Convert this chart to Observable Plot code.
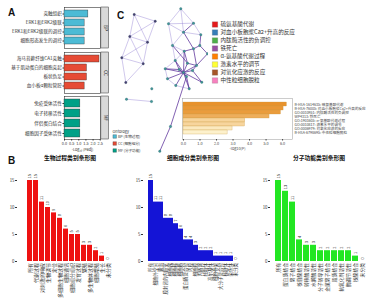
<!DOCTYPE html>
<html><head><meta charset="utf-8">
<script src="https://cdn.jsdelivr.net/npm/d3@7"></script>
<script src="https://cdn.jsdelivr.net/npm/@observablehq/plot@0.6"></script>
<style>
body{margin:0;background:#fff;font-family:"Noto Sans CJK SC","Noto Sans",sans-serif;}
#fig{position:relative;width:385px;height:304px;overflow:hidden;background:#fff;}
.lbl{position:absolute;font-family:"Liberation Sans",Arial,sans-serif;font-weight:bold;font-size:10px;line-height:10px;color:#111;}
.ttl{position:absolute;font-weight:bold;font-size:5.8px;line-height:6px;white-space:nowrap;transform:translateX(-50%);color:#111;}
</style></head><body><div id="fig"></div>
<script>
// ---------- Panel A data ----------
const bpTerms = ["突触组织","ERK1和ERK2级联","ERK1和ERK2级联的调控","细胞形态发生的调控"];
const bpValues = [1.67, 1.41, 1.41, 1.41];
const ccTerms = ["海马苔藓纤维CA1突触","基于肌动蛋白的细胞突起","板状伪足","血小板α颗粒管腔"];
const ccValues = [2.45, 1.57, 1.57, 1.41];
const mfTerms = ["免疫受体活性","电子转移活性","伴侣蛋白结合","细胞因子受体活性"];
const mfValues = [1.11, 1.11, 1.11, 1.11];
const ontologyNames = ["BP","CC","MF"];
const ontologyLabels = ["BP (生物过程)","CC (细胞组分)","MF (分子功能)"];
const ontologyColors = ["#4DBBD5","#E64B35","#00A087"];
const padjTicks = [0, 0.5, 1, 1.5, 2, 2.5];

// ---------- Panel C data ----------
const clusterTerms = ["硫氨基酸代谢","对血小板胞浆Ca2+升高的反应","内肽酶活性的负调控","铁死亡","α-氨基酸代谢过程","激素水平的调节","对氧化应激的反应","中性粒细胞脱粒"];
const clusterColors = ["#e41a1c","#377eb8","#4daf4a","#984ea3","#ff7f00","#ffff33","#a65628","#f781bf"];
const enrichIds = ["R-HSA-1614635","R-HSA-76005","GO:0010951","WP4313","GO:1901605","GO:0010817","GO:0006979","R-HSA-6798695"];
const enrichLogP = [6.26, 6.06, 5.90, 5.21, 3.74, 3.72, 2.97, 2.67];
const logPTicks = [0,1,2,3,4,5,6];

// network layout (layout units)
const nodeIds = ["L0","L1","L2","L3","L4","L5","L6","P0","P1","S0",
  "R0","R1","R2","R3","R4","R5","R6","R7","R8","R9","R10","R11","R12","R13","R14","R15","R16","R17","R18","R19","R20","R21","R22","R23"];
const nodeX = [21.7,42.7,17.3,35,9.3,30.7,13.3,14,39,39.3,
  68.3,56,81,71,88.3,60,87.3,71.7,81,95,62.7,75,84,52.7,66.7,80,55,74,89.3,63.3,76.7,71,58,47.3];
const nodeY = [14,20.7,36,41.7,57.3,63.3,82,98.7,101,88.3,
  8.3,23.3,22.7,31.7,34.3,45,45,50.7,48.3,53.3,60,62.7,65,68.3,69,70,78.3,76,81.7,85,88.3,72,126,150.7];
const nodeGroup = ["a","a","a","a","a","a","a","b","b","b",
  "c","c","c","c","c","c","c","c","c","c","c","c","c","c","c","c","c","c","c","c","c","c","c","c"];
const edgeFrom = ["L0","L0","L0","L1","L1","L2","L2","L2","L3","L3","L4","L4","L5","P0",
  "R0","R0","R0","R1","R1","R1","R3","R2","R3","R5","R5","R7","R13","R16","R19","R13",
  "R2","R4","R6","R6","R7","R7","R8","R11","R9","R10","R13","R14","R13","R15","R16","R17","R12","R11","R19","R20","R18","R10","R15","R12","R17","R17","R22","R5","R7","R14","R3"];
const edgeTo = ["L1","L2","L3","L2","L3","L3","L4","L5","L4","L5","L5","L6","L6","P1",
  "R1","R2","R3","R2","R3","R5","R5","R4","R4","R7","R10","R10","R16","R19","R20","R10",
  "R3","R6","R8","R9","R8","R11","R12","R12","R12","R14","R14","R21","R21","R21","R21","R21","R21","R21","R21","R21","R21","R21","R18","R15","R20","R22","R23","R11","R21","R17","R8"];
const edgeKind = ["l","l","l","l","l","l","l","l","l","l","l","l","l","l",
  "l","l","l","l","l","l","l","l","l","l","l","l","l","l","l","l",
  "d","d","d","d","d","d","d","d","d","d","d","d","d","d","d","d","d","d","d","d","d","d","d","d","d","d","d","d","d","d","d"];

// ---------- Panel B data ----------
const bpCats = ["所有","代谢过程","对刺激的响应","生物调节","定位","多细胞生物过程","细胞通讯","细胞组分组织","发育过程","繁殖","多生物体过程","细胞增殖","生长","未分类"];
const bpCounts = [15,15,11,10,9,8,6,5,5,3,3,2,1,0];
const ccCats = ["所有","细胞外空间","囊泡","膜封闭的内腔室","细胞器","细胞核","细胞质","蛋白质复合物","内膜","细胞膜","内质网","线粒体","高尔基体","细胞骨架","大分子复合物","核糖体","染色体","未分类"];
const ccCounts = [15,11,11,8,8,7,6,4,4,3,2,2,2,1,1,1,1,0];
const mfCats = ["所有","蛋白质结合","离子结合","核苷酸结合","转移酶活性","水解酶活性","分子转导活性","金属离子结合","脂质结合","抗氧化剂活性","酶调节活性","核酸结合","未分类"];
const mfCounts = [15,13,11,4,3,3,2,2,2,2,2,1,0];
const countTicks = [0,5,10,15];
const panelTitles = ["生物过程类别条形图","细胞成分类别条形图","分子功能类别条形图"];
const barColors = ["#ee1111","#1414d6","#22e622"];

// ---------- helpers ----------
const FONT = '"Noto Sans CJK SC","Noto Sans",sans-serif';
const fig = document.getElementById("fig");
function place(el, left, top) {
  el.style.position = "absolute"; el.style.left = left + "px"; el.style.top = top + "px";
  fig.appendChild(el); return el;
}
function label(cls, text, left, top) {
  const d = document.createElement("div"); d.className = cls; d.textContent = text;
  d.style.left = left + "px"; d.style.top = top + "px"; fig.appendChild(d); return d;
}

// ---------- Panel C: network ----------
const nodes = nodeIds.map((id, i) => ({id, x: nodeX[i], y: nodeY[i], g: nodeGroup[i]}));
const byId = new Map(nodes.map(n => [n.id, n]));
const edges = edgeFrom.map((f, i) => ({a: byId.get(f), b: byId.get(edgeTo[i]), k: edgeKind[i]}));
place(Plot.plot({
  width: 100, height: 160, margin: 0,
  style: {background: "transparent", overflow: "visible"},
  x: {domain: [0, 100], axis: null},
  y: {domain: [0, 160], reverse: true, axis: null},
  marks: [
    Plot.link(edges.filter(e => e.k === "l"), {x1: d => d.a.x, y1: d => d.a.y, x2: d => d.b.x, y2: d => d.b.y,
      stroke: "#9f8fd8", strokeWidth: 0.55, strokeOpacity: 0.9}),
    Plot.link(edges.filter(e => e.k === "d"), {x1: d => d.a.x, y1: d => d.a.y, x2: d => d.b.x, y2: d => d.b.y,
      stroke: "#5b2f9a", strokeWidth: 0.9, strokeOpacity: 0.85}),
    Plot.dot(nodes, {x: "x", y: "y", r: 1.2, fill: d => d.g === "a" ? "#4b3b70" : "#3f9a98", stroke: "#2c5a66", strokeWidth: 0.3})
  ]
}), 112, 0);

// ---------- Panel C: cluster legend ----------
place(Plot.plot({
  width: 177, height: 65, marginTop: 2, marginBottom: 2.4, marginLeft: 2, marginRight: 0,
  style: {background: "white", fontFamily: FONT, overflow: "visible"},
  y: {domain: clusterTerms, padding: 0, axis: null},
  color: {domain: clusterTerms, range: clusterColors},
  marks: [
    Plot.dot(clusterTerms, {y: d => d, frameAnchor: "left", dx: 4.5, symbol: "square", r: 3.1, fill: d => d, stroke: "#555", strokeWidth: 0.2}),
    Plot.text(clusterTerms, {y: d => d, frameAnchor: "left", dx: 10, text: d => d, textAnchor: "start", fontSize: 5.6, fill: "#333"})
  ]
}), 208, 20);

// ---------- Panel C: enrichment bars ----------
const enrichLabels = enrichIds.map((id, i) => id + ": " + clusterTerms[i]);
const enrichData = enrichLabels.map((t, i) => ({t, v: enrichLogP[i]}));
place(Plot.plot({
  width: 213, height: 63, marginTop: 8, marginBottom: 14, marginLeft: 10, marginRight: 93,
  style: {background: "transparent", fontFamily: FONT, overflow: "visible", color: "#444"},
  x: {domain: [-0.06, 6.6]},
  y: {domain: enrichLabels, padding: 0.06, insetTop: 2, insetBottom: 4},
  color: {type: "linear", domain: [2.6, 6.3], range: ["#fdf3cf", "#e8912a"]},
  marks: [
    Plot.frame({fill: "white", stroke: "#999", strokeWidth: 0.5}),
    Plot.barX(enrichData, {x: "v", y: "t", fill: "v", stroke: "#c99a45", strokeWidth: 0.3}),
    Plot.axisY({anchor: "right", tickSize: 0, tickPadding: 2, fontSize: 3.6, label: null}),
    Plot.axisX({ticks: logPTicks, tickSize: 1.5, tickPadding: 1, fontSize: 3.8, label: "-log10(P)", labelAnchor: "center", labelOffset: 10, labelArrow: "none"})
  ]
}), 172, 90);

// ---------- Panel C: ontology legend ----------
place(Plot.plot({
  width: 40, height: 24, marginTop: 7, marginBottom: 1.5, marginLeft: 1, marginRight: 0,
  style: {background: "transparent", fontFamily: FONT, overflow: "visible"},
  y: {domain: ontologyLabels, padding: 0, axis: null},
  color: {domain: ontologyLabels, range: ontologyColors},
  marks: [
    Plot.text(["Ontology"], {frameAnchor: "top-left", dy: -5, text: d => d, textAnchor: "start", fontSize: 3.8, fill: "#333"}),
    Plot.dot(ontologyLabels, {y: d => d, frameAnchor: "left", dx: 2.2, symbol: "square", r: 2, fill: d => d, stroke: "#333", strokeWidth: 0.3}),
    Plot.text(ontologyLabels, {y: d => d, frameAnchor: "left", dx: 5.5, text: d => d, textAnchor: "start", fontSize: 3.6, fill: "#333"})
  ]
}), 111, 128);

// ---------- Panel A ----------
function facetPanel(terms, vals, color, strip, frameH, withAxis) {
  const data = terms.map((t, i) => ({t, v: vals[i]}));
  const mb = withAxis ? 16 : 1;
  const marks = [
    Plot.frame({stroke: "#333", strokeWidth: 0.6}),
    Plot.barX(data, {x: "v", y: "t", fill: color, stroke: "#333", strokeWidth: 0.4}),
    Plot.rect([strip], {x1: 2.58, x2: 3.12, fill: "#d9d9d9", stroke: "#333", strokeWidth: 0.5}),
    Plot.text([strip], {x: 2.85, frameAnchor: "middle", text: d => d, rotate: 90, fontSize: 4.5, fill: "#222"}),
    Plot.axisY({tickSize: 1.5, tickPadding: 1.2, fontSize: 4.6, label: null})
  ];
  if (withAxis) marks.push(Plot.axisX({ticks: padjTicks, tickFormat: d3.format(".1f"), tickSize: 1.5, tickPadding: 1, fontSize: 3.8,
    label: "-Log₁₀ (Padj)", labelAnchor: "center", labelOffset: 11, labelArrow: "none"}));
  return Plot.plot({
    width: 110, height: 1 + frameH + mb, marginTop: 1, marginBottom: mb, marginLeft: 64, marginRight: 10,
    style: {background: "transparent", fontFamily: FONT, overflow: "visible", color: "#333"},
    x: {domain: [0, 2.52], axis: withAxis ? undefined : null},
    y: {domain: terms, padding: 0.22},
    marks
  });
}
place(facetPanel(bpTerms, bpValues, ontologyColors[0], ontologyNames[0], 41, false), 0, 6);
place(facetPanel(ccTerms, ccValues, ontologyColors[1], ontologyNames[1], 41, false), 0, 51);
place(facetPanel(mfTerms, mfValues, ontologyColors[2], ontologyNames[2], 43, true), 0, 95);

// ---------- Panel B ----------
function countPanel(cats, counts, color, width, fontSize) {
  const data = cats.map((c, i) => ({c, v: counts[i]}));
  return Plot.plot({
    width, height: 136, marginTop: 15, marginBottom: 40, marginLeft: 17, marginRight: 2,
    style: {background: "transparent", fontFamily: FONT, overflow: "visible", color: "#333"},
    x: {domain: cats, padding: 0.1, insetLeft: 3},
    y: {domain: [0, 15]},
    marks: [
      Plot.barY(data, {x: "c", y: "v", fill: color}),
      Plot.text(data, {x: "c", y: "v", text: d => String(d.v), rotate: -90, textAnchor: "start", dy: -2, fontSize: 4, fill: "#333"}),
      Plot.axisX({tickSize: 0, tickPadding: 1.5, tickRotate: -90, fontSize, label: null}),
      Plot.axisY({ticks: countTicks, tickSize: 2, tickPadding: 1, fontSize: 4.3, label: null})
    ]
  });
}
place(countPanel(bpCats, bpCounts, barColors[0], 119, 5), 0, 165);
place(countPanel(ccCats, ccCounts, barColors[1], 116, 4.5), 126, 165);
place(countPanel(mfCats, mfCounts, barColors[2], 116, 4.8), 253, 165);

// ---------- Labels and titles ----------
label("lbl", "A", 8, 8);
label("lbl", "B", 8, 156);
label("lbl", "C", 117, 11);
label("ttl", panelTitles[0], 70, 155);
label("ttl", panelTitles[1], 193, 155);
label("ttl", panelTitles[2], 319, 155);
</script></body></html>
